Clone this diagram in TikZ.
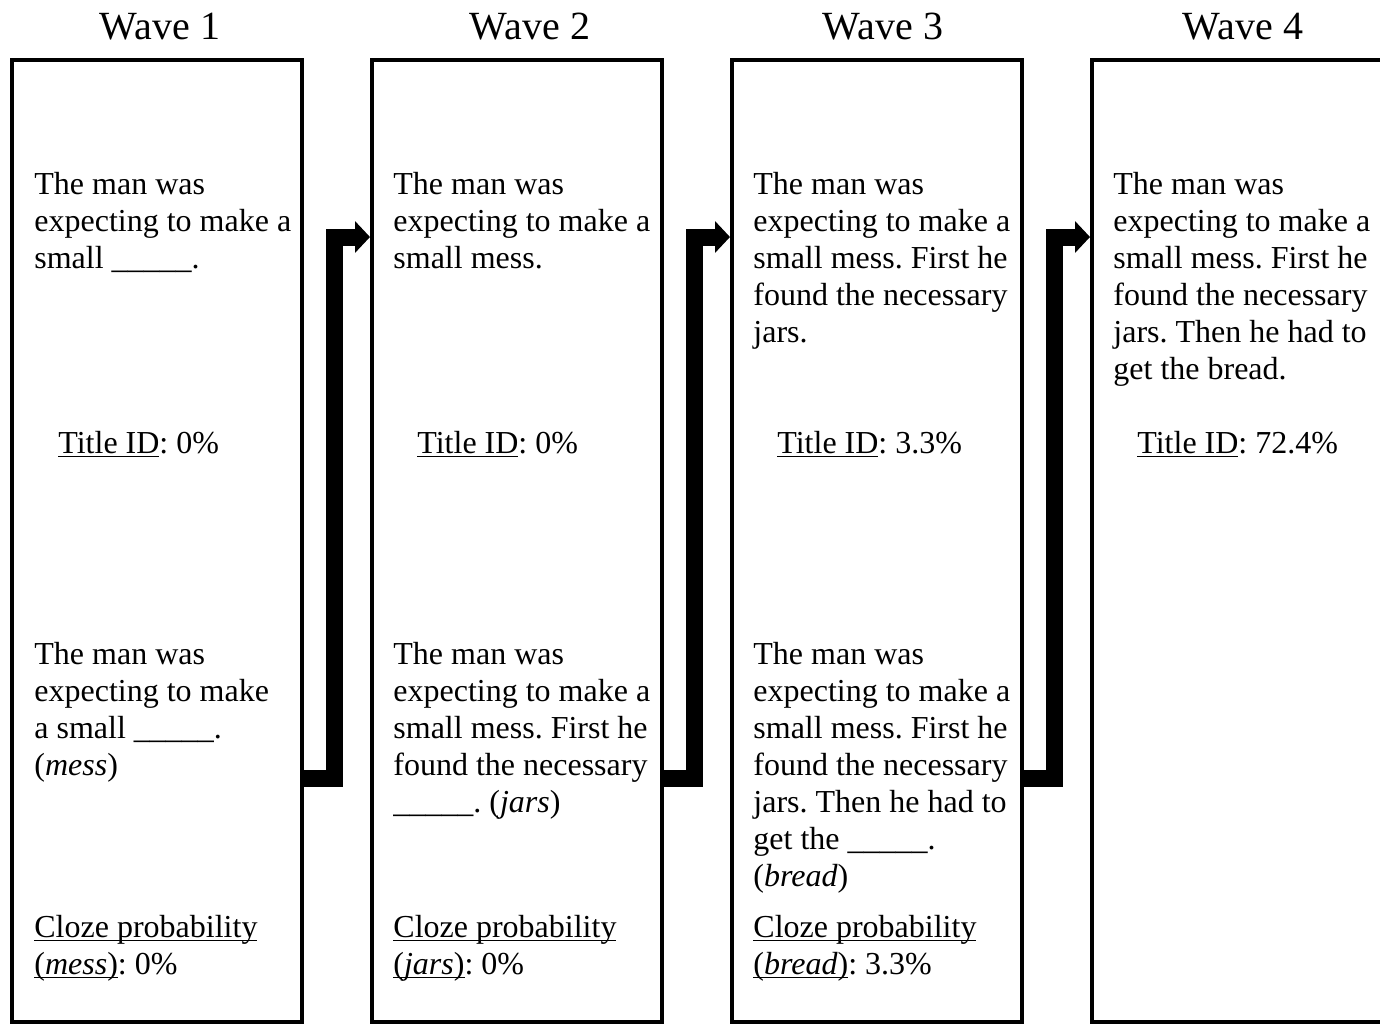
\documentclass[tikz,border=0pt]{standalone}
\usepackage{fontspec}
\setmainfont{Liberation Serif}
\usetikzlibrary{arrows.meta, positioning}
\newcommand{\undl}[1]{\setbox0\hbox{#1}\rlap{\rule[-1.6pt]{\wd0}{0.6pt}}\box0}

\begin{document}
\frenchspacing
\begin{tikzpicture}[
    x=0.5pt, y=-0.5pt,
    wavebox/.style={draw, line width=2pt, minimum width=145pt, minimum height=481pt, inner sep=0pt},
    wavetitle/.style={font=\fontsize{20}{24}\selectfont, inner sep=0pt},
    body/.style={anchor=north west, align=left, inner sep=0pt, font=\fontsize{16}{18.5}\selectfont\frenchspacing},
    flow/.style={-{Triangle[length=7.5pt, width=15.5pt]}, line width=8.5pt, line join=miter}
]
\useasboundingbox (0,0) rectangle (1380,1023);

% Nodes
\node (box1) [wavebox] at (157,541) {};
\node (box2) [wavebox] at (517,541) {};
\node (box3) [wavebox] at (877,541) {};
\node (box4) [wavebox] at (1237,541) {};

\node (title1) [wavetitle] at (160,27) {Wave 1};
\node (title2) [wavetitle] at (530,27) {Wave 2};
\node (title3) [wavetitle] at (883,27) {Wave 3};
\node (title4) [wavetitle] at (1243,27) {Wave 4};

\node (top1) [body] at (34,172) {The man was\\expecting to make a\\small \_\_\_\_\_.};
\node (top2) [body] at (393,172) {The man was\\expecting to make a\\small mess.};
\node (top3) [body] at (753,172) {The man was\\expecting to make a\\small mess. First he\\found the necessary\\jars.};
\node (top4) [body] at (1113,172) {The man was\\expecting to make a\\small mess. First he\\found the necessary\\jars. Then he had to\\get the bread.};

\node (id1) [body] at (58,431) {\undl{Title ID}: 0\%};
\node (id2) [body] at (417,431) {\undl{Title ID}: 0\%};
\node (id3) [body] at (777,431) {\undl{Title ID}: 3.3\%};
\node (id4) [body] at (1137,431) {\undl{Title ID}: 72.4\%};

\node (cloze1) [body] at (34,642) {The man was\\expecting to make\\a small \_\_\_\_\_.\\(\textit{mess})};
\node (cloze2) [body] at (393,642) {The man was\\expecting to make a\\small mess. First he\\found the necessary\\\_\_\_\_\_. (\textit{jars})};
\node (cloze3) [body] at (753,642) {The man was\\expecting to make a\\small mess. First he\\found the necessary\\jars. Then he had to\\get the \_\_\_\_\_.\\(\textit{bread})};

\node (prob1) [body] at (34,915) {\undl{Cloze probability}\\\undl{(\textit{mess})}: 0\%};
\node (prob2) [body] at (393,915) {\undl{Cloze probability}\\\undl{(\textit{jars})}: 0\%};
\node (prob3) [body] at (753,915) {\undl{Cloze probability}\\\undl{(\textit{bread})}: 3.3\%};

\coordinate (lo1) at (334,778);
\coordinate (hi1) at (334,237);
\coordinate (lo2) at (694,778);
\coordinate (hi2) at (694,237);
\coordinate (lo3) at (1054,778);
\coordinate (hi3) at (1054,237);

% Edges
\draw [flow] (box1.east |- lo1) -- (lo1) -- (hi1) -- (box2.west |- hi1);
\draw [flow] (box2.east |- lo2) -- (lo2) -- (hi2) -- (box3.west |- hi2);
\draw [flow] (box3.east |- lo3) -- (lo3) -- (hi3) -- (box4.west |- hi3);

\end{tikzpicture}
\end{document}
